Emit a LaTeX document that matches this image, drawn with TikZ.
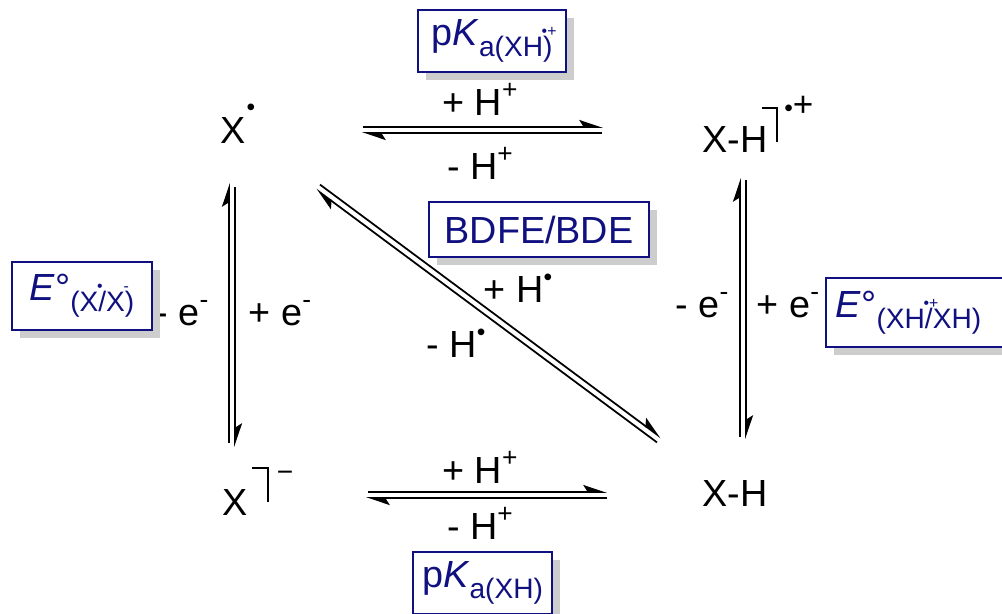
\documentclass[tikz,border=0pt]{standalone}
\usepackage{fontspec}
\setmainfont{Liberation Sans}
\usepackage{tikz}
\usetikzlibrary{arrows.meta,calc,shadows}

\definecolor{boxblue}{RGB}{16,16,128}
\definecolor{shadowgray}{RGB}{205,205,205}

\newcommand{\mainsz}{\fontsize{21.5}{25}\selectfont}
\newcommand{\sups}[1]{\raisebox{.45em}{\fontsize{15}{15}\selectfont#1}}
\newcommand{\subs}[1]{\raisebox{-.3em}{\fontsize{16}{18}\selectfont#1}}
\newcommand{\hdot}{\raisebox{.45em}{\fontsize{14}{14}\selectfont•}}
\newcommand{\upmark}[1]{\rlap{\kern-.05em\raisebox{.72em}{\fontsize{9}{9}\selectfont#1}}}

\begin{document}
\begin{tikzpicture}[
    x=0.02cm, y=-0.02cm,
    species/.style={font=\mainsz, inner sep=0pt, anchor=base},
    lbl/.style={font=\mainsz, inner sep=0pt, anchor=base},
    infobox/.style={font=\mainsz, draw=boxblue, line width=1pt, fill=white, text=boxblue, inner sep=0pt,
        drop shadow={shadow xshift=4.5pt, shadow yshift=-4.5pt, fill=shadowgray, opacity=1}},
    harp/.style={line width=1pt, -{Stealth[left, length=12pt, width=8pt, inset=2.5pt]}},
    bracket/.style={line width=1.1pt},
]
\useasboundingbox (0,0) rectangle (1002,613);
\clip (0,0) rectangle (1002,613);

% species at the corners
\node[species] (xr) at (233,143) {X\rlap{\kern.03em\raisebox{.72em}{\fontsize{14}{14}\selectfont•}}};
\node[species] (xhr) at (735,152) {X-H};
\node[font=\mainsz, inner sep=0pt, anchor=west] (xhrch) at (784,106) {\fontsize{14}{14}\selectfont•\fontsize{20}{20}\selectfont+};
\node[species] (xan) at (235,515) {X};
\node[font=\fontsize{16}{16}\selectfont, inner sep=0pt, anchor=base] (xanch) at (285,481) {−};
\node[species] (xh) at (735,506) {X-H};

\draw[bracket] ($(xhr.base)+(27,-44)$) -| ($(xhr.base)+(42,-10)$);
\draw[bracket] ($(xan.base)+(17,-47)$) -| ($(xan.base)+(33,-13)$);

% equilibrium arrows
\draw[harp] ($(xr.base)+(130,-16)$) -- ($(xhr.base)+(-132,-25)$);
\draw[harp] ($(xhr.base)+(-133,-19)$) -- ($(xr.base)+(129,-10)$);
\draw[harp] ($(xan.base)+(133,-23)$) -- ($(xh.base)+(-128,-14)$);
\draw[harp] ($(xh.base)+(-128,-8)$) -- ($(xan.base)+(131,-17)$);
\draw[harp] ($(xan.base)+(-6,-72)$) -- ($(xr.base)+(-4,40)$);
\draw[harp] ($(xr.base)+(2,44)$) -- ($(xan.base)+(0,-68)$);
\draw[harp] ($(xh.base)+(5,-69)$) -- ($(xhr.base)+(5,26)$);
\draw[harp] ($(xhr.base)+(11,28)$) -- ($(xh.base)+(11,-67)$);
\draw[harp] ($(xr.base)+(87,41.6)$) -- ($(xh.base)+(-74,-68.4)$);
\draw[harp] ($(xh.base)+(-78,-63.6)$) -- ($(xr.base)+(83,46.4)$);

% arrow labels
\node[lbl] (hp1) at (480,115) {+ H\sups{+}};
\node[lbl] (hm1) at (480,179) {- H\sups{+}};
\node[lbl] (hp2) at (480,483) {+ H\sups{+}};
\node[lbl] (hm2) at (480,539) {- H\sups{+}};
\node[lbl] (hp3) at (518,302) {+ H\hdot};
\node[lbl] (hm3) at (456,357) {- H\hdot};
\node[lbl] (em1) at (182,325) {- e\sups{-}};
\node[lbl] (ep1) at (280,325) {+ e\sups{-}};
\node[lbl] (em2) at (702,317) {- e\sups{-}};
\node[lbl] (ep2) at (788,317) {+ e\sups{-}};

% boxed quantities
\node[infobox, minimum width=2.96cm, minimum height=1.24cm] (pkt) at (492,41) {p\textit{K}\subs{a(XH\upmark{•+})}};
\node[infobox, minimum width=2.78cm, minimum height=1.24cm] (pkb) at (482.5,583) {p\textit{K}\subs{a(XH)}};
\node[infobox, minimum width=4.4cm, minimum height=1.1cm] (bde) at (539,229.5) {BDFE/BDE};
\node[infobox, minimum width=2.8cm, minimum height=1.36cm] (eleft) at (82,296) {\textit{E}°\subs{(X\upmark{•}/X\upmark{-})}};
\node[infobox, anchor=west, text width=3.5cm, align=left, inner xsep=0.2cm, minimum height=1.38cm] (eright) at (825,312.5) {\textit{E}°\subs{(XH\upmark{•+}/XH)}};
\end{tikzpicture}
\end{document}
